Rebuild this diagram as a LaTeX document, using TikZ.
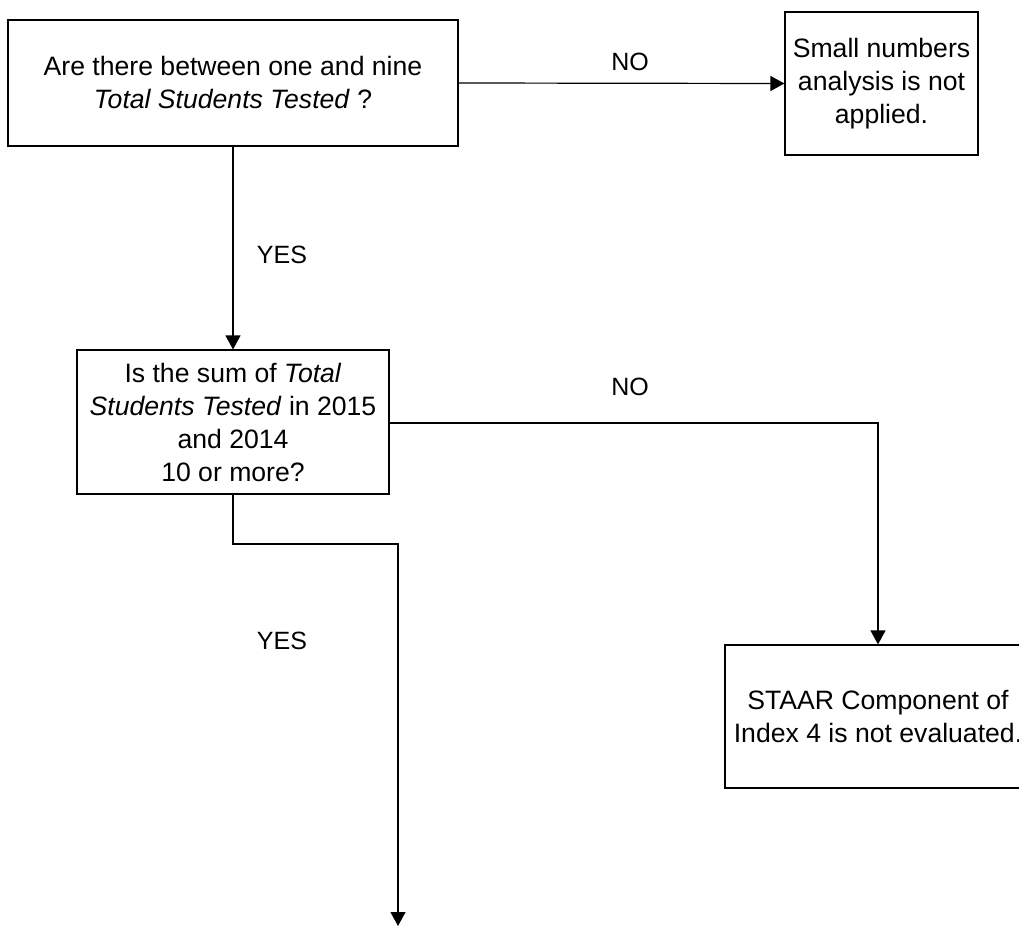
\documentclass[tikz,border=0pt]{standalone}
\usepackage{fontspec}
\setmainfont{Liberation Sans}
\usetikzlibrary{arrows.meta}
\begin{document}
\begin{tikzpicture}[x=1pt,y=-1pt,
  box/.style={draw, line width=1.2pt, align=center, inner sep=0pt, font=\fontsize{26.6}{33}\selectfont},
  conn/.style={line width=1.2pt},
  arr/.style={conn, -{Triangle[length=14pt,width=15pt]}},
  lbl/.style={font=\fontsize{25}{29}\selectfont}]
\useasboundingbox (0,0) rectangle (1019,928);
\clip (0,0) rectangle (1019,928);
\node[box, minimum width=450pt, minimum height=126pt] (q1) at (233,83)
  {Are there between one and nine\\ \textit{Total Students Tested} ?};
\node[box, minimum width=193pt, minimum height=143pt] (na) at (881.5,83.5)
  {Small numbers\\analysis is not\\applied.};
\node[box, minimum width=312pt, minimum height=144pt] (q2) at (233,422)
  {Is the sum of \textit{Total}\\ \textit{Students Tested} in 2015\\and 2014\\10 or more?};
\node[box, minimum width=306pt, minimum height=143pt] (ne) at (878,716.5)
  {STAAR Component of\\Index 4 is not evaluated.};
\coordinate (b1) at (233,544);
\coordinate (b2) at (398,544);
\coordinate (end) at (398,926);
\coordinate (r1) at (878,423);
\draw[arr] (q1.east) -- (na.west);
\draw[arr] (q1.south) -- (q2.north);
\draw[arr] (q2.east |- r1) -- (r1) -- (ne.north);
\draw[arr] (q2.south) -- (b1) -- (b2) -- (end);
\node[lbl] (no1) at (630,62) {NO};
\node[lbl] (yes1) at (282,255) {YES};
\node[lbl] (no2) at (630,387) {NO};
\node[lbl] (yes2) at (282,641) {YES};
\end{tikzpicture}
\end{document}
